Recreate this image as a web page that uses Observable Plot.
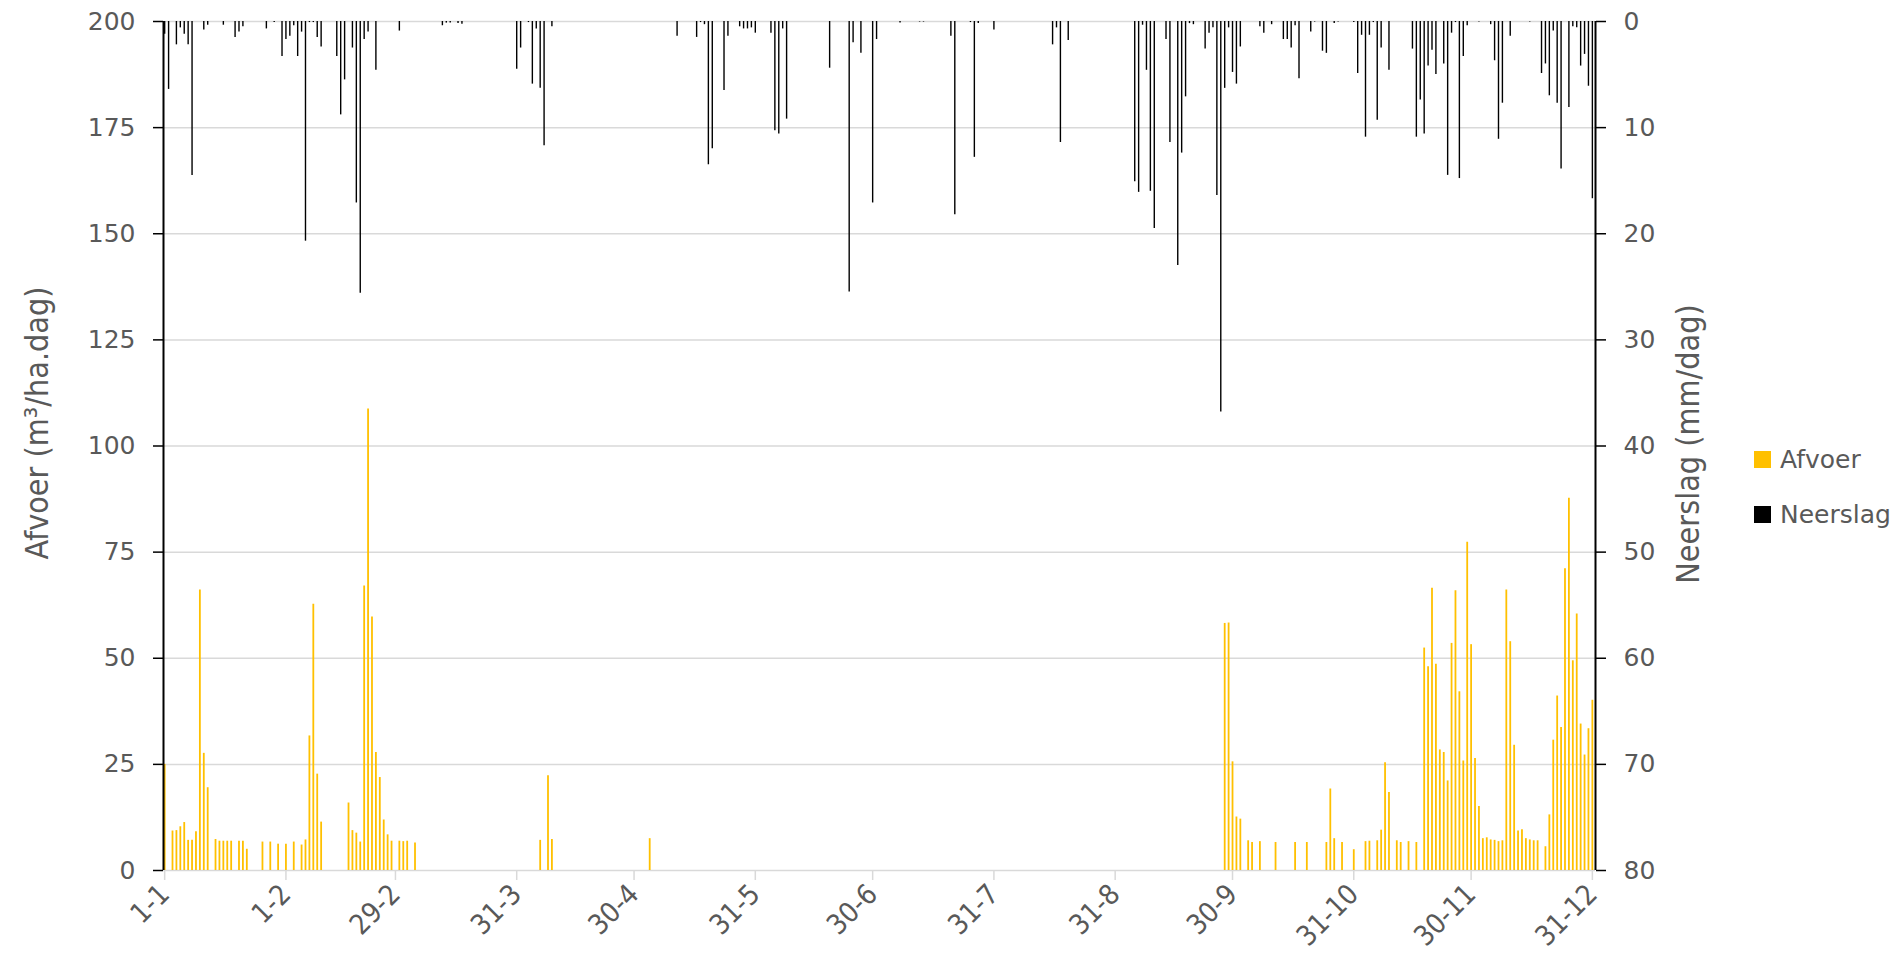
<!DOCTYPE html>
<html><head><meta charset="utf-8">
<script src="https://cdn.jsdelivr.net/npm/d3@7"></script>
<script src="https://cdn.jsdelivr.net/npm/@observablehq/plot@0.6"></script>
<style>
html,body{margin:0;padding:0;background:#fff;overflow:hidden;}
#chart{position:relative;width:1899px;height:962px;}
#chart svg{position:absolute;left:0;top:0;}
.ttl{position:absolute;font-family:"Liberation Sans Narrow","DejaVu Sans Condensed",sans-serif;font-size:32px;color:#595959;white-space:nowrap;transform:translate(-50%,-50%) rotate(-90deg);}
.leg{position:absolute;font-family:"DejaVu Sans",sans-serif;font-size:25px;color:#595959;display:flex;align-items:center;white-space:nowrap;}
.leg span.sw{display:inline-block;width:17px;height:17px;margin-right:9px;}
</style></head>
<body><div id="chart"></div>
<script>
// day index (0 = 1-1, 365 = 31-12) and value
const afvoer = [[0,25],[2,9.3],[3,9.4],[4,10.3],[5,11.3],[6,7.1],[7,7.1],[8,9.1],[9,66.1],[10,27.6],[11,19.5],[13,7.3],[14,6.9],[15,6.9],[16,6.9],[17,6.9],[19,6.9],[20,6.9],[21,5.0],[25,6.7],[27,6.7],[29,6.2],[31,6.2],[33,6.7],[35,6.0],[36,7.2],[37,31.7],[38,62.7],[39,22.7],[40,11.4],[47,15.9],[48,9.4],[49,8.8],[50,6.7],[51,67.0],[52,108.7],[53,59.7],[54,27.8],[55,21.9],[56,11.9],[57,8.4],[58,6.9],[60,6.9],[61,6.8],[62,6.9],[64,6.5],[96,7.1],[98,22.3],[99,7.3],[124,7.5],[271,58.2],[272,58.3],[273,25.6],[274,12.6],[275,12.1],[277,7.0],[278,6.6],[280,6.8],[284,6.6],[289,6.6],[292,6.6],[297,6.6],[298,19.2],[299,7.5],[301,6.6],[304,4.9],[307,6.8],[308,6.9],[310,7.0],[311,9.5],[312,25.4],[313,18.4],[315,7.0],[316,6.6],[318,6.8],[320,6.6],[322,52.4],[323,48.0],[324,66.5],[325,48.6],[326,28.4],[327,27.8],[328,21.1],[329,53.5],[330,65.9],[331,42.1],[332,25.8],[333,77.3],[334,53.2],[335,26.4],[336,15.1],[337,7.5],[338,7.7],[339,7.2],[340,7.1],[341,6.8],[342,7.0],[343,66.1],[344,53.9],[345,29.5],[346,9.3],[347,9.6],[348,7.5],[349,7.2],[350,7.0],[351,7.0],[353,5.6],[354,13.1],[355,30.7],[356,41.1],[357,33.7],[358,71.1],[359,87.7],[360,49.4],[361,60.4],[362,34.5],[363,27.2],[364,33.4],[365,40.1]];
const neerslag = [[0,1.2],[1,6.4],[3,2.2],[4,0.6],[5,1.2],[6,2.2],[7,14.5],[10,0.8],[11,0.35],[15,0.35],[18,1.5],[19,1.0],[20,0.5],[26,0.7],[28,0.1],[30,3.3],[31,1.7],[32,1.4],[33,0.4],[34,3.3],[35,1.0],[36,20.7],[37,0.1],[38,0.1],[39,1.5],[40,2.4],[44,3.3],[45,8.8],[46,5.5],[48,2.5],[49,17.1],[50,25.6],[51,1.7],[52,1.0],[54,4.6],[60,0.9],[71,0.4],[72,0.15],[73,0.15],[75,0.2],[76,0.25],[90,4.5],[91,2.5],[93,0.1],[94,5.9],[95,0.7],[96,6.3],[97,11.7],[99,0.5],[131,1.4],[136,1.5],[137,0.1],[138,0.3],[139,13.5],[140,12.0],[143,6.5],[144,1.4],[147,0.5],[148,0.7],[149,0.7],[150,0.6],[151,1.1],[155,1.1],[156,10.3],[157,10.6],[158,0.7],[159,9.2],[170,4.4],[175,25.5],[176,2.0],[178,3.0],[181,17.1],[182,1.7],[188,0.15],[193,0.05],[194,0.05],[201,1.4],[202,18.2],[206,0.1],[207,12.8],[208,0.2],[212,0.8],[227,2.2],[228,0.6],[229,11.4],[231,1.8],[248,15.1],[249,16.1],[250,0.35],[251,4.6],[252,16.0],[253,19.5],[256,1.7],[257,11.4],[259,23.0],[260,12.4],[261,7.1],[262,0.2],[263,0.3],[266,2.6],[267,1.1],[268,0.6],[269,16.4],[270,36.8],[271,6.3],[272,0.6],[273,4.8],[274,5.9],[275,2.4],[280,0.5],[281,1.1],[283,0.3],[286,1.7],[287,1.7],[288,2.5],[289,0.4],[290,5.4],[293,1.0],[294,0.05],[296,2.8],[297,3.0],[299,0.2],[300,0.05],[304,0.1],[305,4.9],[306,1.3],[307,10.9],[308,1.3],[309,0.1],[310,9.3],[311,2.5],[313,4.6],[319,2.6],[320,10.9],[321,7.4],[322,10.6],[323,4.2],[324,2.7],[325,5.0],[327,4.0],[328,14.5],[329,1.1],[330,0.1],[331,14.8],[332,3.3],[333,0.4],[336,0.05],[339,0.3],[340,3.7],[341,11.1],[342,7.7],[344,1.4],[349,0.05],[352,4.9],[353,4.0],[354,7.0],[355,0.9],[356,7.7],[357,13.9],[359,8.1],[360,0.5],[361,0.6],[362,4.2],[363,3.1],[364,6.1],[365,16.7]];
const xTickDays = [0,31,59,90,120,151,181,212,243,273,304,334,365];
const xTickLabels = ["1-1","1-2","29-2","31-3","30-4","31-5","30-6","31-7","31-8","30-9","31-10","30-11","31-12"];
const afvoerTicks = [0,25,50,75,100,125,150,175,200];
const neerslagTicks = [0,10,20,30,40,50,60,70,80];
const seriesNames = ["Afvoer","Neerslag"];
const seriesColors = ["#FFC000","#000000"];

const W=1899,H=962,mL=163,mR=304,mT=21,mB=92;
const xDomain=[-0.3,365.8];
const labelByDay=new Map(xTickDays.map((d,i)=>[d,xTickLabels[i]]));
const condensed='"Liberation Sans Narrow","DejaVu Sans Condensed",sans-serif';
const base={width:W,height:H,marginLeft:mL,marginRight:mR,marginTop:mT,marginBottom:mB,
  style:{background:"transparent",overflow:"visible"}};

const aData=afvoer.map(([d,v])=>({d,v}));
const nData=neerslag.map(([d,v])=>({d,v}));

const p1=Plot.plot({...base,
  x:{domain:xDomain,axis:null},
  y:{domain:[0,200],axis:null},
  marks:[
    Plot.gridY(afvoerTicks,{stroke:"#d9d9d9",strokeOpacity:1,strokeWidth:1.5}),
    Plot.ruleX(aData,{x:"d",y1:0,y2:"v",stroke:seriesColors[0],strokeWidth:1.8}),
    Plot.axisX(xTickDays,{anchor:"bottom",tickSize:10,stroke:"#d9d9d9",strokeWidth:1.5,tickRotate:-45,tickPadding:9,
      tickFormat:d=>labelByDay.get(d),fontSize:28,fontFamily:condensed,fill:"#595959",label:null}),
    Plot.axisY(afvoerTicks,{anchor:"left",tickSize:10,stroke:"#000",strokeWidth:1.5,tickPadding:18,
      fontSize:25,fontFamily:"DejaVu Sans",fill:"#595959",label:null}),
    Plot.ruleX([xDomain[0]],{stroke:"#000",strokeWidth:2})
  ]});

const p2=Plot.plot({...base,
  x:{domain:xDomain,axis:null},
  y:{domain:[0,80],reverse:true,axis:null},
  marks:[
    Plot.ruleX(nData,{x:"d",y1:0,y2:"v",stroke:seriesColors[1],strokeWidth:1.4}),
    Plot.axisY(neerslagTicks,{anchor:"right",tickSize:10,stroke:"#000",strokeWidth:1.5,tickPadding:18,
      fontSize:25,fontFamily:"DejaVu Sans",fill:"#595959",label:null}),
    Plot.ruleX([xDomain[1]],{stroke:"#000",strokeWidth:2})
  ]});

const chart=document.getElementById("chart");
chart.appendChild(p1);
chart.appendChild(p2);

function addDiv(cls,html,css){const el=document.createElement("div");el.className=cls;el.innerHTML=html;Object.assign(el.style,css);chart.appendChild(el);return el;}
addDiv("ttl","Afvoer (m³/ha.dag)",{left:"37px",top:"423px"});
addDiv("ttl","Neerslag (mm/dag)",{left:"1688px",top:"444px"});
seriesNames.forEach((n,i)=>{
  addDiv("leg",`<span class="sw" style="background:${seriesColors[i]}"></span>${n}`,{left:"1754px",top:(445+i*55)+"px",height:"28px"});
});
</script></body></html>
